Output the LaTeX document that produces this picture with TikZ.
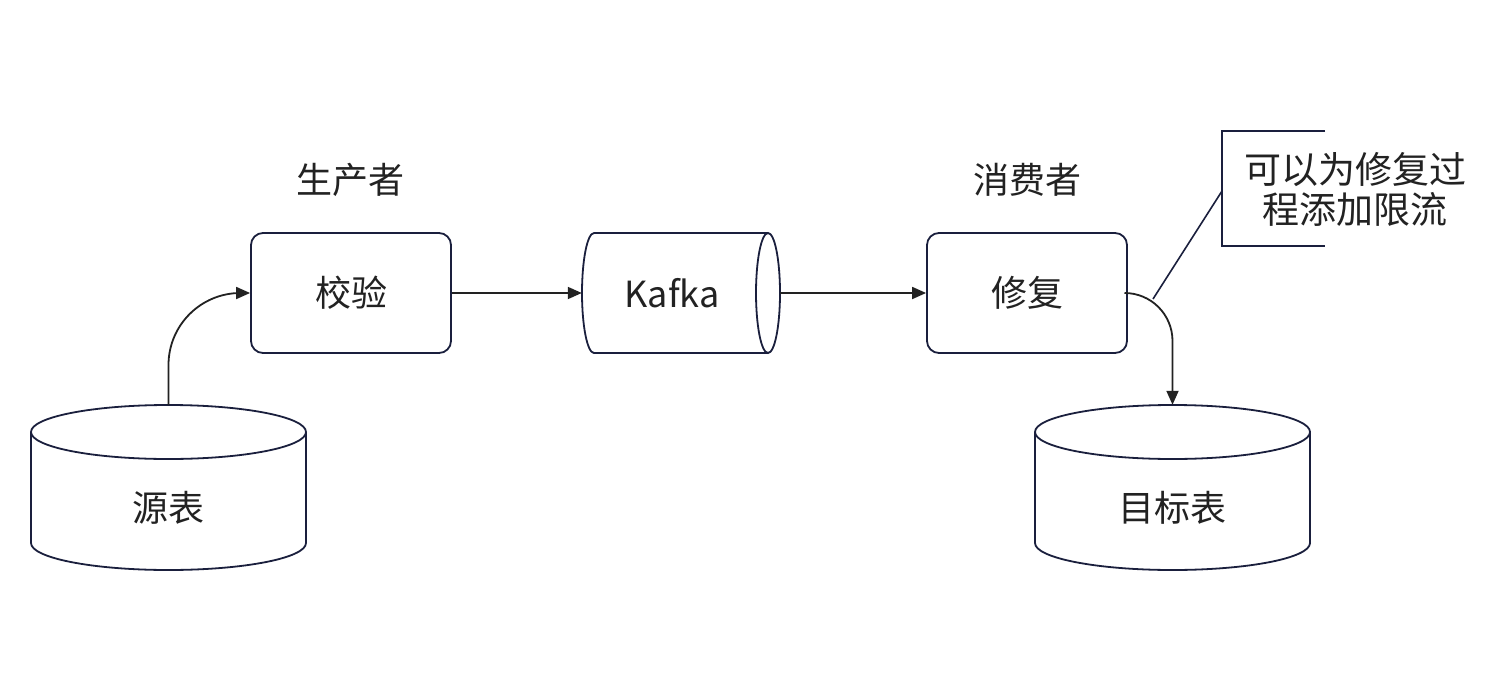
\documentclass[tikz,border=0pt]{standalone}
\usepackage{fontspec}
\setmainfont{Noto Sans CJK SC}
\usetikzlibrary{arrows.meta}
\definecolor{edge}{HTML}{1A1F3D}
\definecolor{ink}{HTML}{222222}
\tikzset{
  shapeline/.style={draw=edge, line width=1.8pt, fill=white},
  boxnode/.style={shapeline, rounded corners=12pt, minimum width=200pt, minimum height=120pt, inner sep=0pt},
  lbl/.style={text=ink, font=\fontsize{36pt}{44pt}\selectfont, inner sep=0pt, align=center},
  ghost/.style={draw=none, inner sep=0pt},
  conn/.style={draw=ink, line width=1.8pt, -{Triangle[length=14pt,width=12pt]}},
  plainconn/.style={draw=edge, line width=1.6pt},
}
\begin{document}
\begin{tikzpicture}[x=1pt,y=-1pt]
\useasboundingbox (0,0) rectangle (1490,698);
\fill[white] (0,0) rectangle (1490,698);

% titles
\node[lbl] (ptitle) at (350,180) {生产者};
\node[lbl] (ctitle) at (1027,180) {消费者};

% boxes
\node[boxnode] (check) at (351,293) {};
\node[lbl] (checkt) at (351,293) {校验};
\node[boxnode] (fix) at (1027,293) {};
\node[lbl] (fixt) at (1027,293) {修复};

% Kafka horizontal cylinder
\node[ghost, minimum width=198pt, minimum height=120pt] (kafka) at (681,293) {};
\filldraw[shapeline] (768,233) -- (594,233) arc[start angle=270, end angle=90, x radius=12, y radius=60] -- (768,353);
\filldraw[shapeline] (768,293) ellipse[x radius=12, y radius=60];
\node[lbl] (kafkat) at (672,293) {Kafka};

% source cylinder
\node[ghost, minimum width=275pt, minimum height=165pt] (src) at (168.5,487.5) {};
\filldraw[shapeline] (31,432) -- (31,543) arc[start angle=180, end angle=0, x radius=137.5, y radius=27] -- (306,432);
\filldraw[shapeline] (168.5,432) ellipse[x radius=137.5, y radius=27];
\node[lbl] (srct) at (168.5,508) {源表};

% target cylinder
\node[ghost, minimum width=275pt, minimum height=165pt] (dst) at (1172.5,487.5) {};
\filldraw[shapeline] (1035,432) -- (1035,543) arc[start angle=180, end angle=0, x radius=137.5, y radius=27] -- (1310,432);
\filldraw[shapeline] (1172.5,432) ellipse[x radius=137.5, y radius=27];
\node[lbl] (dstt) at (1172.5,508) {目标表};

% connectors
\draw[conn, rounded corners=72pt] (src.north) |- (check.west);
\draw[conn] (check.east) -- (kafka.west);
\draw[conn] (kafka.east) -- (fix.west);
\draw[conn, rounded corners=48pt] (fix.east) -| (dst.north);

% annotation
\node[lbl, font=\fontsize{37pt}{40pt}\selectfont] (note) at (1355,189) {可以为修复过\\程添加限流};
\draw[plainconn] (1325,131) -- (1222,131) -- (1222,246) -- (1325,246);
\coordinate (brk) at (1222,191);
\coordinate (tap) at (1153,299);
\draw[plainconn] (brk) -- (tap);
\end{tikzpicture}
\end{document}
